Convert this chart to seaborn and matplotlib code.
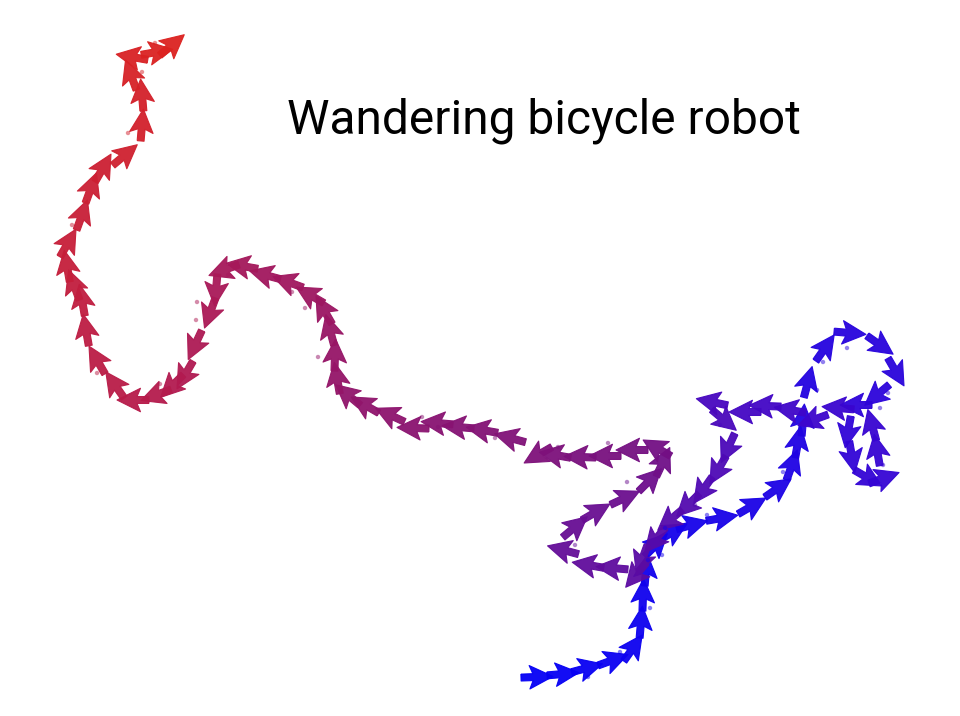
import numpy as np
import matplotlib
matplotlib.use("Agg")
import matplotlib.pyplot as plt
from matplotlib.colors import LinearSegmentedColormap
import pandas as pd
import seaborn as sns

# robot poses along the run (start = blue, end = red)
step_x = [537, 563, 587, 613, 633, 641, 643, 646, 656, 673,
          692, 722, 752, 778, 792, 798, 803, 808, 825, 850,
          880, 896, 877, 856, 848, 852, 868, 884, 877, 872,
          838, 813, 790, 765, 745, 712, 724, 728, 718, 703,
          688, 670, 655, 642, 636, 612, 588, 563, 575, 596,
          625, 650, 663, 657, 632, 605, 580, 555, 538, 510,
          482, 458, 437, 413, 390, 365, 348, 337, 335, 330,
          324, 310, 288, 265, 242, 224, 216, 210, 195, 185,
          172, 156, 133, 115, 97, 86, 82, 74, 67, 68,
          82, 91, 103, 125, 142, 142, 131, 132, 157, 172]
step_y = [39, 42, 48, 56, 68, 94, 121, 146, 171, 184,
          191, 198, 210, 228, 251, 274, 296, 334, 368, 383,
          371, 344, 321, 311, 284, 259, 238, 238, 266, 291,
          308, 296, 306, 310, 304, 314, 296, 268, 246, 226,
          211, 196, 176, 156, 141, 148, 151, 166, 189, 204,
          218, 236, 254, 268, 266, 260, 259, 261, 261, 278,
          286, 289, 293, 288, 301, 311, 321, 338, 361, 386,
          406, 421, 434, 441, 450, 446, 426, 403, 371, 341,
          330, 321, 316, 331, 356, 386, 416, 431, 450, 473,
          501, 528, 548, 561, 591, 621, 641, 659, 664, 671]
heading_deg = [2, 5, 15, 20, 55, 85, 88, 85, 45, 30,
               15, 10, 30, 35, 70, 80, 85, 75, 55, -5,
               -35, -60, -140, 180, -100, -80, -30, 20, 100, 105,
               175, 200, 170, 178, 180, 168, -40, -115, -120, -125,
               -135, -140, -130, -110, -130, 175, 170, 165, 40, 30,
               25, 45, 65, 150, 180, 180, 178, 170, -150, 165,
               170, 175, 175, 178, 155, 150, 140, 100, 88, 105,
               120, 150, 160, 165, 170, 200, -95, -110, -115, -120,
               -135, -160, 180, 125, 120, 100, 100, 110, 100, 60,
               70, 70, 60, 40, 85, 95, 110, 170, 10, 40]

# landmark sightings
obs_x = [588, 620, 650, 662, 648, 665, 695, 707, 783, 720,
         817, 823, 847, 888, 880, 883, 627, 575, 558, 608,
         495, 438, 422, 318, 305, 292, 228, 197, 196, 160,
         97, 72, 128, 142, 155]
obs_y = [39, 64, 108, 161, 156, 188, 211, 201, 244, 291,
         326, 354, 368, 323, 308, 251, 234, 171, 269, 273,
         278, 289, 299, 359, 408, 424, 441, 414, 396, 332,
         343, 491, 583, 644, 673]
obs_t = [0.03, 0.04, 0.06, 0.08, 0.08, 0.10, 0.40, 0.11, 0.14, 0.36,
         0.17, 0.18, 0.19, 0.22, 0.23, 0.27, 0.50, 0.47, 0.57, 0.55,
         0.60, 0.62, 0.63, 0.68, 0.71, 0.72, 0.75, 0.78, 0.79, 0.81,
         0.85, 0.91, 0.95, 0.97, 0.99]

title = "Wandering bicycle robot"

sns.set_theme(style="white")
plt.rcParams["font.family"] = ["Roboto", "DejaVu Sans"]

cmap = LinearSegmentedColormap.from_list(
    "blue_red", [(0.0, "#0500f5"), (0.3, "#3a05d0"), (0.55, "#761080"),
                 (0.8, "#b01a52"), (1.0, "#dc2220")])

fig = plt.figure(figsize=(9.6, 7.16), dpi=100)
ax = fig.add_axes([0, 0, 1, 1])

poses = pd.DataFrame({"x": step_x, "y": step_y, "h": heading_deg})
poses["t"] = np.arange(len(poses)) / (len(poses) - 1)
arrow_len = 32
u = arrow_len * np.cos(np.radians(poses["h"]))
v = arrow_len * np.sin(np.radians(poses["h"]))
ax.quiver(poses["x"], poses["y"], u, v, poses["t"], cmap=cmap,
          angles="xy", scale_units="xy", scale=1, pivot="mid",
          width=0.0072, headwidth=3.4, headlength=3.4, headaxislength=2.9,
          linewidth=0.8, edgecolor="face", alpha=0.95, zorder=2)

obs = pd.DataFrame({"x": obs_x, "y": obs_y, "t": obs_t})
sns.scatterplot(data=obs, x="x", y="y", hue="t", palette=cmap,
                hue_norm=(0, 1), s=10, alpha=0.5, edgecolor="none",
                legend=False, ax=ax, zorder=3)

ax.set_xlim(0, 960)
ax.set_ylim(0, 716)
ax.set_axis_off()

fig.text(0.299, 0.814, title, fontsize=34.5, color="black",
         ha="left", va="baseline")

fig.savefig("out.png", dpi=100)
